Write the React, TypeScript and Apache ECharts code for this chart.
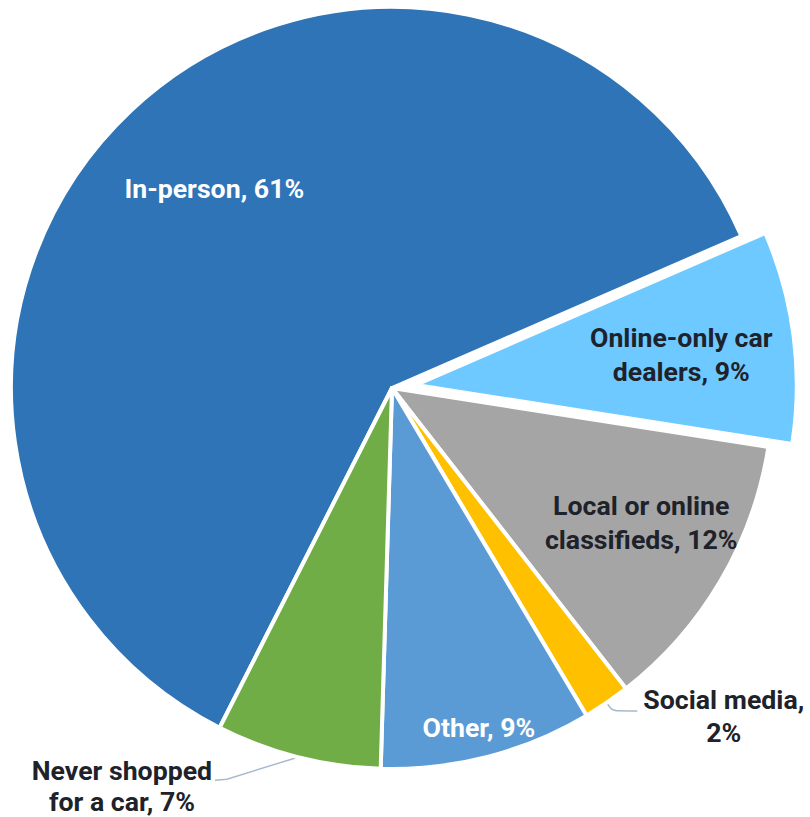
import React, { useEffect, useRef } from "react";
import * as echarts from "echarts";

const categories = [
  "In-person",
  "Online-only car dealers",
  "Local or online classifieds",
  "Social media",
  "Other",
  "Never shopped for a car",
];
const values = [61, 9, 12, 2, 9, 7];
const labelLines = [
  ["In-person, 61%"],
  ["Online-only car", "dealers, 9%"],
  ["Local or online", "classifieds, 12%"],
  ["Social media,", "2%"],
  ["Other, 9%"],
  ["Never shopped", "for a car, 7%"],
];
const colors = ["#2E74B6", "#6DC9FF", "#A5A5A5", "#FFC000", "#5B9BD5", "#70AD47"];
const textColors = ["#FFFFFF", "#1E222A", "#1E222A", "#1E222A", "#FFFFFF", "#1E222A"];
const outside = [false, false, false, true, false, true];
const exploded = [false, true, false, false, false, false];

// label nudges (styling only)
const labelShift: Record<number, [number, number]> = {
  0: [-45, -58],
  1: [73.5, -5],
  2: [82.5, 36.5],
  3: [-6, 5],
  4: [38.5, 153],
  5: [-8.5, 19.5],
};

export default function App() {
  const ref = useRef<HTMLDivElement>(null);
  useEffect(() => {
    if (!ref.current) return;
    const chart = echarts.init(ref.current, undefined, { renderer: "svg" });
    const font = "Roboto";
    const fs = 26.7;
    const data = categories.map((name, i) => ({
      name,
      value: values[i],
      selected: exploded[i],
      itemStyle: { color: colors[i] },
      label: outside[i]
        ? {
            position: "outside",
            formatter: labelLines[i].map((l) => `{c|${l}}`).join("\n"),
            rich: {
              c: {
                width: i === 3 ? 175 : 200,
                align: "center",
                color: textColors[i],
                fontSize: fs,
                fontWeight: "bold",
                fontFamily: font,
                lineHeight: i === 5 ? 31 : 33,
              },
            },
          }
        : {
            position: "inside",
            formatter: labelLines[i].join("\n"),
            color: textColors[i],
          },
      labelLine: outside[i]
        ? {
            show: true,
            length: 10,
            length2: i === 3 ? 25 : 60,
            smooth: i === 3 ? 0.3 : false,
            lineStyle: { color: "#A9B9CC", width: 1.5 },
          }
        : { show: false },
    }));
    chart.setOption({
      animation: false,
      series: [
        {
          type: "pie",
          center: [392, 388],
          radius: 381,
          startAngle: 243.1,
          clockwise: true,
          selectedMode: "single",
          selectedOffset: 24,
          avoidLabelOverlap: false,
          emphasis: { disabled: true },
          itemStyle: { borderColor: "#FFFFFF", borderWidth: 4 },
          label: {
            fontSize: fs,
            fontWeight: "bold",
            fontFamily: font,
            lineHeight: 34,
            align: "center",
          },
          labelLayout: (params: any) => {
            const s = labelShift[params.dataIndex];
            if (!s) return {};
            const out: any = { dx: s[0], dy: s[1] };
            if (params.dataIndex === 5 && params.labelLinePoints && params.labelLinePoints[0]) {
              const p0 = params.labelLinePoints[0];
              out.labelLinePoints = [
                [p0[0], p0[1]],
                [p0[0] - 71, p0[1] + 22],
                [p0[0] - 83, p0[1] + 23],
              ];
            }
            return out;
          },
          data,
        },
      ],
    });
    return () => chart.dispose();
  }, []);
  return (
    <div
      ref={ref}
      style={{ position: "absolute", left: 0, top: 0, width: 810, height: 817 }}
    />
  );
}
